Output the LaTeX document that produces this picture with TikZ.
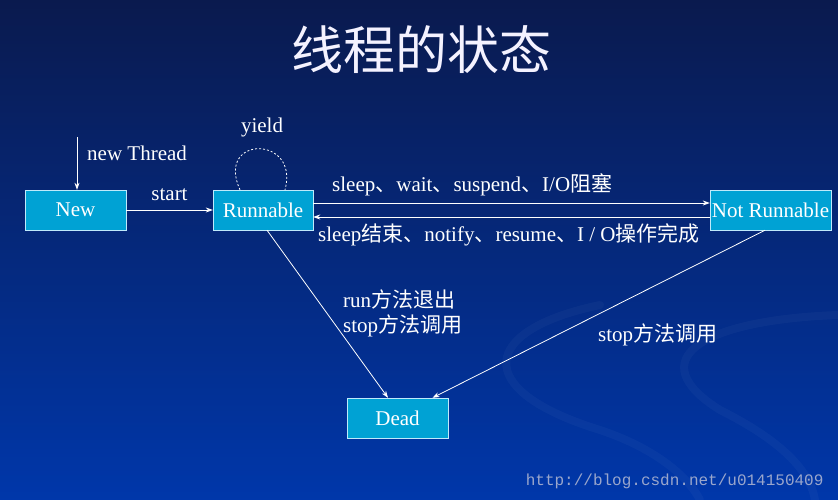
\documentclass[tikz,border=0pt]{standalone}
\usepackage{fontspec}
\setmainfont{Liberation Serif}
\newfontfamily\cjk{Noto Sans CJK SC}
\newfontfamily\wmfont{Liberation Mono}
\usetikzlibrary{arrows.meta,positioning,calc}
\definecolor{bgTop}{HTML}{0A1A4E}
\definecolor{bgMid}{HTML}{05309A}
\definecolor{bgBot}{HTML}{0037AA}
\definecolor{stBox}{HTML}{00A2D4}
\definecolor{wmCol}{HTML}{9AA6CC}
\definecolor{ttlCol}{HTML}{F4F2FF}
\newcommand{\zh}[1]{{\cjk #1}}

\begin{document}
\begin{tikzpicture}[x=1pt,y=-1pt,
  state/.style={draw=white!75!cyan,fill=stBox,text=white,minimum height=40pt,inner sep=0pt,font=\fontsize{21}{24}\selectfont},
  trans/.style={white,line width=0.8pt,-{Stealth[length=7pt,width=5pt]}},
  lbl/.style={text=white,inner sep=0pt,font=\fontsize{21}{25}\selectfont},
  swirl/.style={white,opacity=0.03,line width=8pt,line cap=round}]
  \shade[top color=bgTop,middle color=bgMid,bottom color=bgBot] (0,0) rectangle (838,500);
  \useasboundingbox (0,0) rectangle (838,500);
  % background swirls
  \draw[swirl] (600,305) .. controls (480,330) and (470,390) .. (600,430) .. controls (660,450) and (690,480) .. (700,500);
  \draw[swirl] (838,315) .. controls (700,320) and (640,360) .. (720,410) .. controls (780,440) and (810,470) .. (815,500);
  % title
  \node[text=ttlCol,font=\cjk\fontsize{52}{56}\selectfont] (title) at (421,50) {线程的状态};
  % states
  \node[state,minimum width=101pt] (new) at (75.5,210) {New};
  \node[state,minimum width=100pt] (run) at (263,210) {Runnable};
  \node[state,minimum width=121pt] (notrun) at (770.5,210) {Not Runnable};
  \node[state,minimum width=101pt] (dead) at (397.5,418) {Dead};
  % transitions
  \coordinate (nt) at (77,137);
  \draw[trans] (nt) -- (nt |- new.north);
  \node[lbl,anchor=west] (ntl) at (87,153) {new Thread};
  \draw[trans] (new) -- (run) node[lbl,midway,above=9pt] {start};
  \draw[white,line width=0.8pt,dash pattern=on 2pt off 2pt] ([xshift=-23pt]run.north) .. controls (215,135) and (300,135) .. ([xshift=22pt]run.north);
  \node[lbl] (yl) at (262,127) {yield};
  \draw[trans] ([yshift=7pt]run.east) -- ([yshift=7pt]notrun.west);
  \node[lbl,anchor=west] at (332,185) {sleep\zh{、}wait\zh{、}suspend\zh{、}I/O\zh{阻塞}};
  \draw[trans] ([yshift=-7pt]notrun.west) -- ([yshift=-7pt]run.east);
  \node[lbl,anchor=west] at (318,235) {sleep\zh{结束、}notify\zh{、}resume\zh{、}I / O\zh{操作完成}};
  \draw[trans] ($(run.south)+(4,0)$) -- ($(dead.north)+(-9.5,0)$);
  \node[lbl,anchor=west,align=left] at (343,313) {run\zh{方法退出}\\stop\zh{方法调用}};
  \draw[trans] ($(notrun.south)+(-5.5,0)$) -- ($(dead.north)+(35,0)$);
  \node[lbl,anchor=west] at (598,335) {stop\zh{方法调用}};
  % watermark
  \node[text=wmCol,font=\wmfont\fontsize{16}{18}\selectfont,anchor=east] at (827,481) {http://blog.csdn.net/u014150409};
\end{tikzpicture}
\end{document}
